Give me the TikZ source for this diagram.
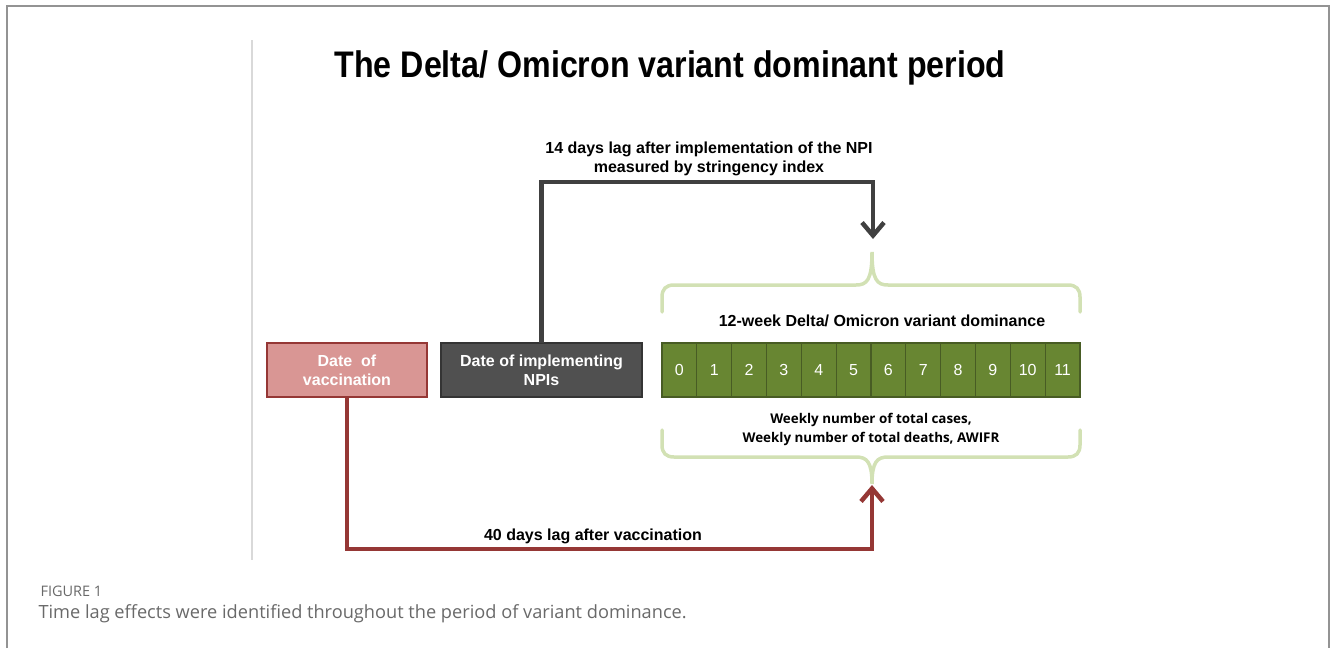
\documentclass[tikz,border=0pt]{standalone}
\usepackage{fontspec}
\setmainfont{Liberation Sans}
\newfontfamily\capfont{Open Sans}
\newfontfamily\titlefont[FakeStretch=0.87]{Liberation Sans}
\usetikzlibrary{arrows.meta,positioning,calc}
\definecolor{vacpink}{RGB}{217,150,148}
\definecolor{vacred}{RGB}{149,55,53}
\definecolor{npigray}{RGB}{80,80,80}
\definecolor{npidark}{RGB}{52,52,52}
\definecolor{weekgreen}{RGB}{104,134,50}
\definecolor{weekdark}{RGB}{72,92,36}
\definecolor{bracegreen}{RGB}{210,225,180}
\definecolor{lagarrow}{RGB}{64,64,64}
\definecolor{capgray}{RGB}{105,105,105}

\begin{document}
\begin{tikzpicture}[x=1pt, y=1pt, node distance=14pt,
  every node/.style={font=\bfseries\fontsize{16}{19}\selectfont},
  datebox/.style={draw, line width=1.5pt, text=white, align=center, minimum height=54pt, inner sep=0pt, outer sep=0pt},
  weekcell/.style={draw=weekdark, fill=weekgreen, line width=1.2pt, text=white, minimum width=34.83pt, minimum height=54pt, inner sep=0pt, outer sep=0pt, font=\fontsize{16}{18}\selectfont},
  lagline/.style={line width=4.5pt, -{Straight Barb[length=13pt,width=22pt]}},
  bracepen/.style={draw=bracegreen, line width=3.5pt, line cap=round}]
\useasboundingbox (0,0) rectangle (1330,-648);
% frame and separator
\draw[gray!85, line width=2pt] (6.5,-648) -- (6.5,-6) -- (1329,-6) -- (1329,-648);
\draw[gray!30, line width=1.5pt] (252,-40) -- (252,-560);

\node[font=\titlefont\bfseries\fontsize{37}{42}\selectfont] (title) at (670,-68) {The Delta/ Omicron variant dominant period};

% date boxes
\node[datebox, fill=vacpink, draw=vacred, minimum width=160pt] (vac) at (347,-370) {Date\ \ of\\vaccination};
\node[datebox, fill=npigray, draw=npidark, minimum width=201pt, right=of vac] (npi) {Date of implementing\\NPIs};

% weeks
\node[weekcell, right=20pt of npi] (w0) {0};
\foreach \i [count=\j from 0] in {1,...,11}
  \node[weekcell, right=0pt of w\j] (w\i) {\i};
\node (weektitle) at (882,-321) {12-week Delta/ Omicron variant dominance};
\node[font=\capfont\bfseries\fontsize{13.4}{19}\selectfont, align=center] (outcomes) at (871,-429) {Weekly number of total cases,\\Weekly number of total deaths, AWIFR};

% braces
\draw[bracepen] (662,-312) -- (662,-297) .. controls (662,-289) and (666,-285) .. (674,-285) -- (856,-285) .. controls (867,-285) and (872,-280) .. (872,-252) .. controls (872,-280) and (877,-285) .. (888,-285) -- (1068,-285) .. controls (1076,-285) and (1080,-289) .. (1080,-297) -- (1080,-312);
\draw[bracepen] (662,-430) -- (662,-445) .. controls (662,-453) and (666,-457) .. (674,-457) -- (856,-457) .. controls (867,-457) and (872,-462) .. (872,-484) .. controls (872,-462) and (877,-457) .. (888,-457) -- (1068,-457) .. controls (1076,-457) and (1080,-453) .. (1080,-445) -- (1080,-430);

% lags
\coordinate (npiturn) at (873,-182);
\coordinate (npitip) at (873,-239);
\draw[lagline, lagarrow] (npi.north) |- (npiturn) -- (npitip);
\node[align=center] (npilag) at (709,-159) {14 days lag after implementation of the NPI\\measured by stringency index};
\coordinate (vacturn) at (872,-549);
\coordinate (vactip) at (872,-485);
\draw[lagline, vacred] (vac.south) |- (vacturn) -- (vactip);
\node (vaclag) at (593,-536) {40 days lag after vaccination};

% caption
\node[anchor=west, font=\capfont\fontsize{14.5}{17}\selectfont, text=capgray] (figno) at (37,-591) {FIGURE 1};
\node[anchor=west, font=\capfont\fontsize{18.2}{21}\selectfont, text=capgray] (caption) at (35,-614) {Time lag effects were identified throughout the period of variant dominance.};
\end{tikzpicture}
\end{document}
